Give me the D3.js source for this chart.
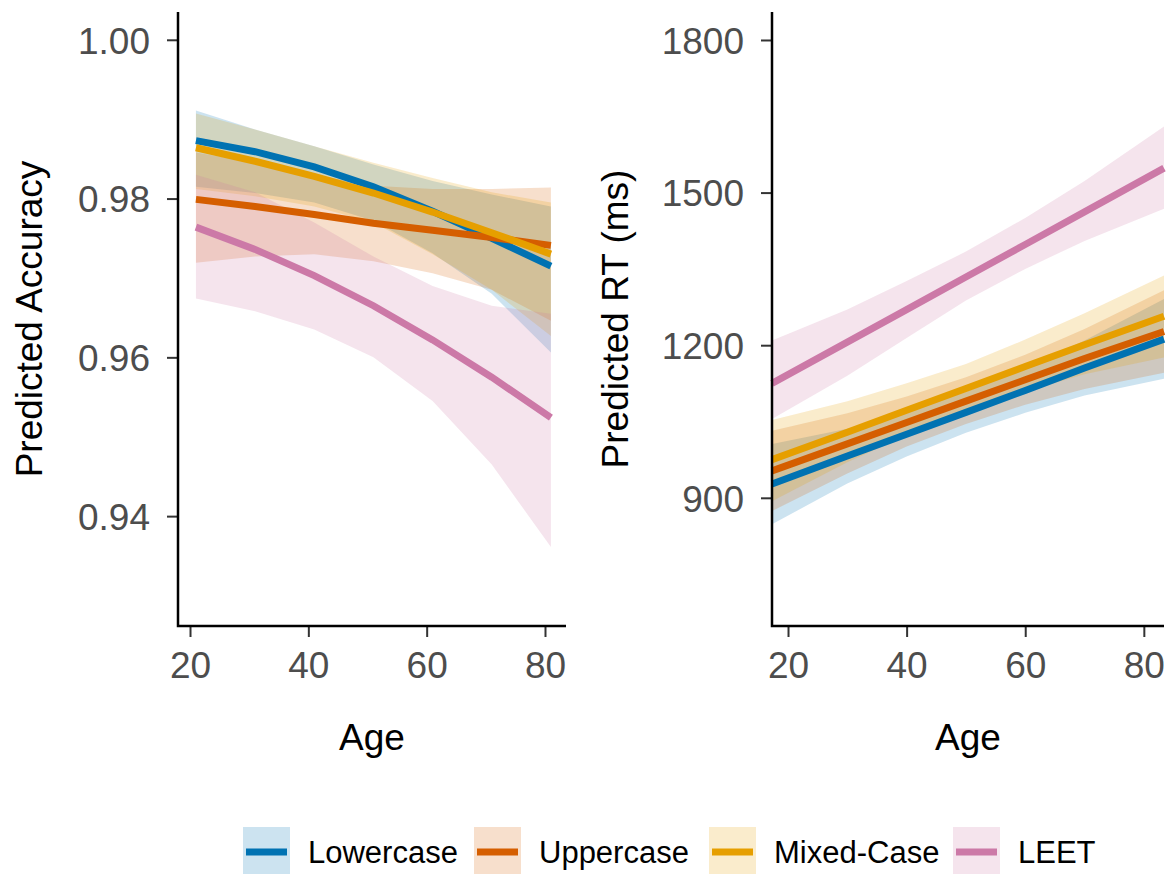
<!DOCTYPE html>
<html>
<head>
<meta charset="utf-8">
<script src="https://cdn.jsdelivr.net/npm/d3@7"></script>
<style>
  body { margin: 0; background: #fff; }
  text { font-family: "Liberation Sans", Arial, sans-serif; }
</style>
</head>
<body>
<script>
// groups and colours (Okabe-Ito)
var groups = ["Lowercase", "Uppercase", "Mixed-Case", "LEET"];
var groupColors = ["#0072B2", "#D55E00", "#E69F00", "#CC79A7"];

// left panel: predicted accuracy by age
var accAges = [21, 31, 41, 51, 61, 71, 81];
var accLowerFit = [0.9873, 0.9859, 0.9840, 0.9815, 0.9784, 0.9750, 0.9715];
var accLowerLo  = [0.9815, 0.9807, 0.9795, 0.9772, 0.9731, 0.9680, 0.9606];
var accLowerHi  = [0.9911, 0.9887, 0.9866, 0.9843, 0.9822, 0.9805, 0.9790];
var accUpperFit = [0.9799, 0.9790, 0.9780, 0.9769, 0.9760, 0.9751, 0.9741];
var accUpperLo  = [0.9719, 0.9727, 0.9730, 0.9721, 0.9706, 0.9685, 0.9646];
var accUpperHi  = [0.9858, 0.9845, 0.9830, 0.9816, 0.9812, 0.9812, 0.9814];
var accMixedFit = [0.9864, 0.9847, 0.9828, 0.9807, 0.9783, 0.9757, 0.9730];
var accMixedLo  = [0.9812, 0.9803, 0.9790, 0.9770, 0.9730, 0.9685, 0.9627];
var accMixedHi  = [0.9907, 0.9887, 0.9866, 0.9845, 0.9826, 0.9808, 0.9795];
var accLeetFit  = [0.9764, 0.9736, 0.9703, 0.9665, 0.9622, 0.9575, 0.9524];
var accLeetLo   = [0.9674, 0.9658, 0.9635, 0.9600, 0.9545, 0.9465, 0.9361];
var accLeetHi   = [0.9830, 0.9808, 0.9770, 0.9727, 0.9690, 0.9665, 0.9655];
var accTicks = [0.94, 0.96, 0.98, 1.00];

// right panel: predicted RT (ms) by age
var rtAges = [17.3, 30, 40, 50, 60, 70, 83.4];
var rtLowerFit = [927, 982, 1025, 1068, 1111, 1155, 1212];
var rtLowerLo  = [848, 928, 981, 1028, 1067, 1101, 1134];
var rtLowerHi  = [1006, 1036, 1069, 1108, 1155, 1209, 1291];
var rtUpperFit = [953, 1006, 1048, 1090, 1132, 1174, 1227];
var rtUpperLo  = [874, 948, 1001, 1045, 1083, 1114, 1146];
var rtUpperHi  = [1032, 1066, 1099, 1137, 1181, 1232, 1308];
var rtMixedFit = [975, 1029, 1072, 1115, 1158, 1201, 1257];
var rtMixedLo  = [893, 970, 1023, 1067, 1109, 1143, 1176];
var rtMixedHi  = [1053, 1090, 1125, 1163, 1211, 1263, 1337];
var rtLeetFit  = [1125, 1206, 1270, 1334, 1398, 1462, 1548];
var rtLeetLo   = [1055, 1140, 1214, 1288, 1350, 1405, 1468];
var rtLeetHi   = [1209, 1270, 1326, 1384, 1450, 1523, 1630];
var rtTicks = [900, 1200, 1500, 1800];

var ageTicks = [20, 40, 60, 80];

var width = 1168, height = 874;
var panelTop = 12, panelBottom = 626;

var svg = d3.select("body").append("svg")
    .attr("width", width)
    .attr("height", height);

function buildRows(ages, fit, lo, hi) {
    return ages.map(function (a, i) {
        return {age: a, fit: fit[i], lo: lo[i], hi: hi[i]};
    });
}

function drawPanel(opts) {
    var x = d3.scaleLinear().domain(opts.xDomain).range([opts.left, opts.right]);
    var y = d3.scaleLinear().domain(opts.yDomain).range([panelBottom, panelTop]);

    var g = svg.append("g");

    var area = d3.area()
        .x(function (d) { return x(d.age); })
        .y0(function (d) { return y(d.lo); })
        .y1(function (d) { return y(d.hi); });

    var line = d3.line()
        .x(function (d) { return x(d.age); })
        .y(function (d) { return y(d.fit); });

    // ribbons first, then lines on top
    g.selectAll("path.ribbon")
        .data(opts.series)
        .enter().append("path")
        .attr("class", "ribbon")
        .attr("d", function (s) { return area(s.rows); })
        .attr("fill", function (s, i) { return groupColors[i]; })
        .attr("fill-opacity", 0.2);

    g.selectAll("path.fit")
        .data(opts.series)
        .enter().append("path")
        .attr("class", "fit")
        .attr("d", function (s) { return line(s.rows); })
        .attr("fill", "none")
        .attr("stroke", function (s, i) { return groupColors[i]; })
        .attr("stroke-width", 7);

    // axes
    var yAxis = d3.axisLeft(y).tickValues(opts.yTicks).tickSize(11).tickPadding(10)
        .tickFormat(opts.yFormat);
    var xAxis = d3.axisBottom(x).tickValues(ageTicks).tickSize(11).tickPadding(10);

    var ya = g.append("g")
        .attr("transform", "translate(" + opts.left + ",0)")
        .call(yAxis);
    var xa = g.append("g")
        .attr("transform", "translate(0," + panelBottom + ")")
        .call(xAxis);

    [ya, xa].forEach(function (a) {
        a.select(".domain").remove();
        a.selectAll(".tick line").attr("stroke", "#333333").attr("stroke-width", 2);
        a.selectAll(".tick text")
            .attr("fill", "#4D4D4D")
            .style("font-size", "37px");
    });
    ya.selectAll(".tick text").attr("x", -28).attr("dy", "0.36em");
    xa.selectAll(".tick text").attr("y", 26).attr("dy", "0.71em");

    // axis lines (classic theme)
    g.append("path")
        .attr("d", "M" + opts.left + "," + panelTop + "V" + panelBottom + "H" + opts.right)
        .attr("fill", "none")
        .attr("stroke", "#000")
        .attr("stroke-width", 2.5);

    // titles
    g.append("text")
        .attr("transform", "translate(" + opts.yTitleX + "," + (panelTop + panelBottom) / 2 + ") rotate(-90)")
        .attr("text-anchor", "middle")
        .style("font-size", "37px")
        .attr("fill", "#000")
        .text(opts.yTitle);

    g.append("text")
        .attr("x", (opts.left + opts.right) / 2)
        .attr("y", 750)
        .attr("text-anchor", "middle")
        .style("font-size", "37px")
        .attr("fill", "#000")
        .text("Age");
}

drawPanel({
    left: 178, right: 566,
    xDomain: [17.97, 83.55],
    yDomain: [0.92616, 1.0035],
    yTicks: accTicks,
    yFormat: d3.format(".2f"),
    yTitle: "Predicted Accuracy",
    yTitleX: 42,
    series: [
        {rows: buildRows(accAges, accLowerFit, accLowerLo, accLowerHi)},
        {rows: buildRows(accAges, accUpperFit, accUpperLo, accUpperHi)},
        {rows: buildRows(accAges, accMixedFit, accMixedLo, accMixedHi)},
        {rows: buildRows(accAges, accLeetFit, accLeetLo, accLeetHi)}
    ]
});

drawPanel({
    left: 772, right: 1164,
    xDomain: [17.3, 83.4],
    yDomain: [648, 1855],
    yTicks: rtTicks,
    yFormat: d3.format("d"),
    yTitle: "Predicted RT (ms)",
    yTitleX: 628,
    series: [
        {rows: buildRows(rtAges, rtLowerFit, rtLowerLo, rtLowerHi)},
        {rows: buildRows(rtAges, rtUpperFit, rtUpperLo, rtUpperHi)},
        {rows: buildRows(rtAges, rtMixedFit, rtMixedLo, rtMixedHi)},
        {rows: buildRows(rtAges, rtLeetFit, rtLeetLo, rtLeetHi)}
    ]
});

// legend along the bottom
var legendX = [243, 474, 709, 953];
var legend = svg.append("g").attr("class", "legend");
var keys = legend.selectAll("g.key")
    .data(groups)
    .enter().append("g")
    .attr("class", "key")
    .attr("transform", function (d, i) { return "translate(" + legendX[i] + ",827)"; });

keys.append("rect")
    .attr("width", 47).attr("height", 47)
    .attr("fill", function (d, i) { return groupColors[i]; })
    .attr("fill-opacity", 0.2);
keys.append("line")
    .attr("x1", 3).attr("x2", 44)
    .attr("y1", 25).attr("y2", 25)
    .attr("stroke", function (d, i) { return groupColors[i]; })
    .attr("stroke-width", 7);
keys.append("text")
    .attr("x", 65).attr("y", 25)
    .attr("dy", "0.36em")
    .style("font-size", "31px")
    .attr("fill", "#000")
    .text(function (d) { return d; });
</script>
</body>
</html>
